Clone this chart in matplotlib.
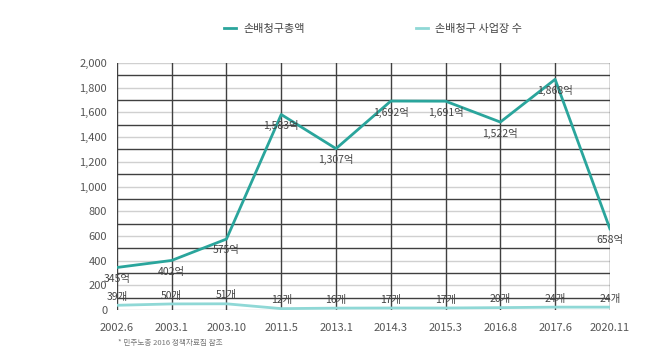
import matplotlib.pyplot as plt
import numpy as np

plt.rcParams['font.family'] = ['Noto Sans CJK KR', 'DejaVu Sans']

# data
dates = ['2002.6', '2003.1', '2003.10', '2011.5', '2013.1',
         '2014.3', '2015.3', '2016.8', '2017.6', '2020.11']
total = [345, 402, 575, 1583, 1307, 1692, 1691, 1522, 1868, 658]   # 억
sites = [39, 50, 51, 12, 16, 17, 17, 20, 24, 24]                   # 개

c_total = '#2aa59c'
c_sites = '#8fd8d6'

fig = plt.figure(figsize=(6.53, 3.54), dpi=100)
ax = fig.add_axes([0.179, 0.124, 0.755, 0.698])

x = np.arange(len(dates))

# light grid at ticks, dark lines in between
for v in range(0, 2001, 200):
    ax.axhline(v, color='#d0d0d0', lw=1.0, zorder=1)
for v in range(100, 2000, 200):
    ax.axhline(v, color='#404040', lw=1.0, zorder=1)
for xi in x:
    ax.axvline(xi, color='#404040', lw=1.0, zorder=1)

l1, = ax.plot(x, total, color=c_total, lw=2.0, zorder=3, label='손배청구총액')
l2, = ax.plot(x, sites, color=c_sites, lw=2.0, zorder=3, label='손배청구 사업장 수')

for xi, v in zip(x, total):
    ax.annotate('{:,}억'.format(v), (xi, v), xytext=(0, -8), textcoords='offset points',
                ha='center', va='center', fontsize=7.5, color='#444444', zorder=4)
for xi, v in zip(x, sites):
    ax.annotate('{}개'.format(v), (xi, v), xytext=(0, 6), textcoords='offset points',
                ha='center', va='center', fontsize=7.5, color='#444444', zorder=4)

ax.set_xlim(0, len(dates) - 1)
ax.set_ylim(0, 2000)
ax.set_xticks(x)
ax.set_xticklabels(dates)
ax.set_yticks(range(0, 2001, 200))
ax.set_yticklabels(['{:,}'.format(v) for v in range(0, 2001, 200)])
ax.tick_params(axis='both', length=0, labelsize=8, colors='#555555')
ax.tick_params(axis='x', pad=9)
ax.tick_params(axis='y', pad=7)
for s in ax.spines.values():
    s.set_visible(False)

fig.legend(handles=[l1, l2], loc='center', bbox_to_anchor=(0.571, 0.918), ncol=2,
           frameon=False, fontsize=8, handlelength=1.1, handletextpad=0.6,
           columnspacing=10, labelcolor='#444444')

fig.text(0.181, 0.03, '* 민주노총 2016 정책자료집 참조', fontsize=5.5, color='#777777',
         ha='left', va='center')

fig.savefig('out.png', dpi=100)
